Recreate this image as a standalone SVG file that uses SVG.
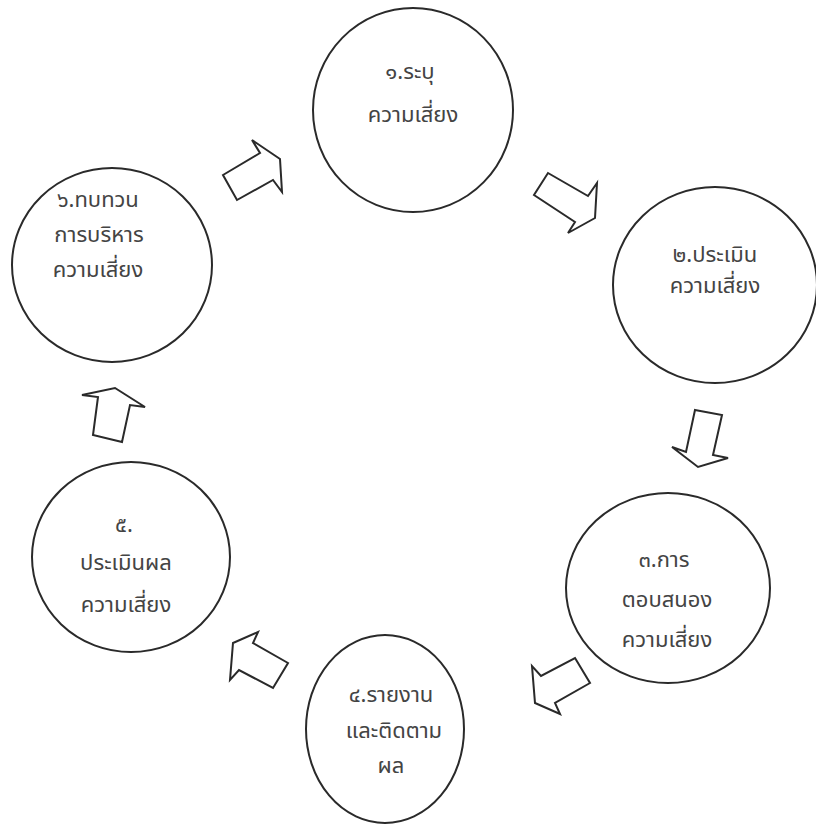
<svg xmlns="http://www.w3.org/2000/svg" width="816" height="825" viewBox="0 0 816 825">
<style>
.c{fill:#fff;stroke:#2a2a2a;stroke-width:2}
.a{fill:#fff;stroke:#2a2a2a;stroke-width:2;stroke-linejoin:miter}
.t{font-family:"Noto Sans Thai","Noto Sans","DejaVu Sans",sans-serif;font-size:22px;fill:#444;text-anchor:middle}
</style>
<rect width="816" height="825" fill="#fff"/>
<g id="connectors">
<polygon class="a" points="252,140 260,153 223,175 237,200 273,180 282,192 280,159"/>
<polygon class="a" points="548,173 588,196 597,183 595,218 568,233 575,222 534,195"/>
<polygon class="a" points="695,410 722,415 713,455 728,458 698,467 672,447 686,452"/>
<polygon class="a" points="575,658 590,683 555,703 560,714 535,703 532,666 541,676"/>
<polygon class="a" points="258,632 253,643 288,663 273,688 239,670 230,680 233,643"/>
<polygon class="a" points="82,395 115,388 145,407 130,405 122,442 93,435 98,397"/>
</g>
<g id="n1">
<ellipse class="c" cx="413" cy="110" rx="100" ry="102"/>
<text class="t" x="410" y="79">๑.ระบุ</text>
<text class="t" x="413" y="122">ความเสี่ยง</text>
</g>
<g id="n2">
<ellipse class="c" cx="715" cy="285" rx="102" ry="98"/>
<text class="t" x="715" y="262">๒.ประเมิน</text>
<text class="t" x="715" y="293">ความเสี่ยง</text>
</g>
<g id="n3">
<ellipse class="c" cx="668" cy="588" rx="102" ry="95"/>
<text class="t" x="664" y="567">๓.การ</text>
<text class="t" x="667" y="607">ตอบสนอง</text>
<text class="t" x="667" y="647">ความเสี่ยง</text>
</g>
<g id="n4">
<ellipse class="c" cx="385" cy="729" rx="79" ry="94"/>
<text class="t" x="391" y="702">๔.รายงาน</text>
<text class="t" x="394" y="738">และติดตาม</text>
<text class="t" x="391" y="773">ผล</text>
</g>
<g id="n5">
<ellipse class="c" cx="131" cy="557" rx="99" ry="95"/>
<text class="t" x="124" y="532">๕.</text>
<text class="t" x="126" y="570">ประเมินผล</text>
<text class="t" x="126" y="612">ความเสี่ยง</text>
</g>
<g id="n6">
<ellipse class="c" cx="112" cy="265" rx="100" ry="97"/>
<text class="t" x="98" y="207">๖.ทบทวน</text>
<text class="t" x="99" y="242">การบริหาร</text>
<text class="t" x="98" y="277">ความเสี่ยง</text>
</g>
</svg>
